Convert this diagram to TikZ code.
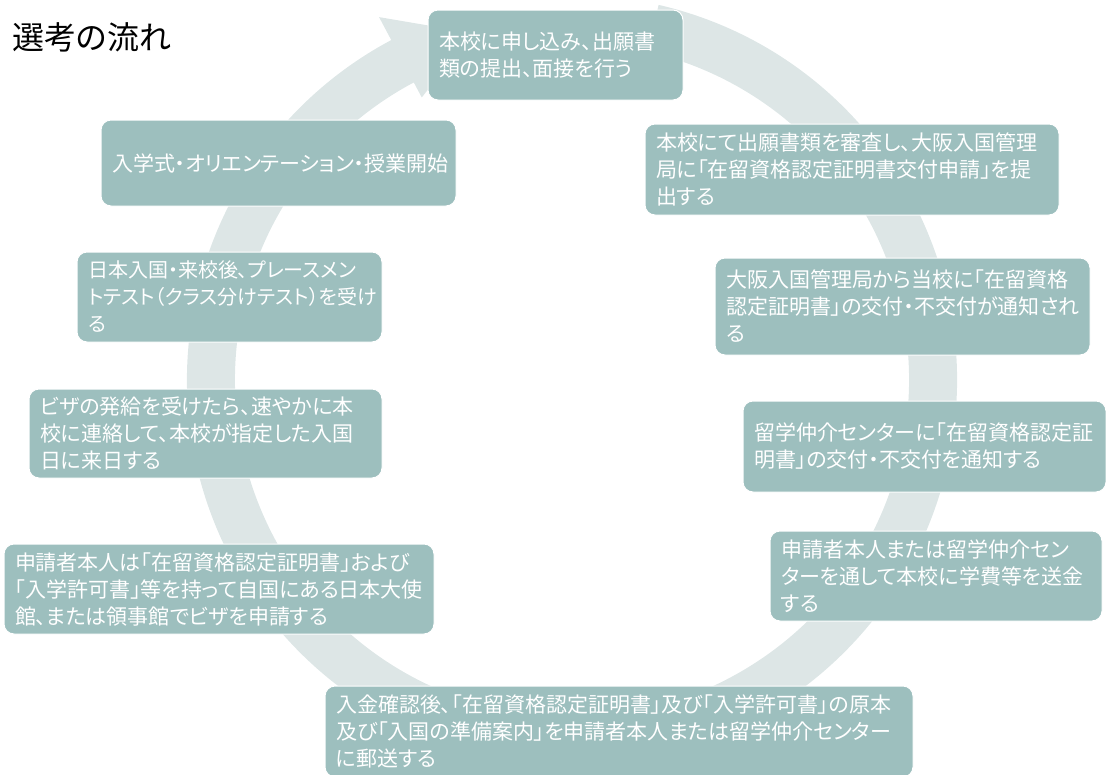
\documentclass[tikz,border=0pt]{standalone}
\usepackage{fontspec}
\usepackage{tikz}
\usetikzlibrary{positioning}
\usetikzlibrary{calc}
\newfontfamily\jpfont{Noto Sans CJK JP}[RawFeature=+palt]
\definecolor{boxcol}{RGB}{157,191,190}
\definecolor{ringcol}{RGB}{221,230,230}
\tikzstyle{stepbox}=[rectangle,rounded corners=10pt,fill=boxcol,draw=white,line width=1pt,text=white,align=left,inner xsep=11pt,inner ysep=4pt,font=\jpfont\fontsize{21}{27}\selectfont]
\tikzstyle{ring}=[fill=ringcol]
\tikzstyle{title}=[font=\jpfont\fontsize{32}{36}\selectfont,anchor=west,inner sep=0pt]

\begin{document}
\begin{tikzpicture}[x=1pt,y=1pt]
\useasboundingbox (0,0) rectangle (1106,-774);

%cycle arrow
\begin{scope}[shift={(572,-380)}]
    \fill[ring] (77:385) arc[start angle=77,end angle=-242,radius=385] -- (-242:411) -- (-254:361) -- (-242:320) -- (-242:337) arc[start angle=-242,end angle=77,radius=337] -- cycle;
\end{scope}

\node[title] (head) at (12,-37) {選考の流れ};

%steps
    \foreach \pos/\w/\h/\name/\txt in {
        {(555.5,-55)/255/90/apply/{本校に申し込み、出願書\\類の提出、面接を行う}},
        {(852,-169.5)/414/91/check/{本校にて出願書類を審査し、大阪入国管理\\局に「在留資格認定証明書交付申請」を提\\出する}},
        {(902.5,-306.5)/375/97/notice/{大阪入国管理局から当校に「在留資格\\認定証明書」の交付・不交付が通知され\\る}},
        {(924.5,-446.5)/363/91/agent/{留学仲介センターに「在留資格認定証\\明書」の交付・不交付を通知する}},
        {(936,-576)/332/90/fee/{申請者本人または留学仲介セン\\ターを通して本校に学費等を送金\\する}},
        {(619,-731.5)/588/91/mail/{入金確認後、「在留資格認定証明書」及び「入学許可書」の原本\\及び「入国の準備案内」を申請者本人または留学仲介センター\\に郵送する}},
        {(219,-589)/430/90/visa/{申請者本人は「在留資格認定証明書」および\\「入学許可書」等を持って自国にある日本大使\\館、または領事館でビザを申請する}},
        {(205.5,-433.5)/353/89/arrive/{ビザの発給を受けたら、速やかに本\\校に連絡して、本校が指定した入国\\日に来日する}},
        {(229.5,-297)/305/90/test/{\fontsize{20}{27}\selectfont 日本入国・来校後、プレースメン\\トテスト（クラス分けテスト）を受け\\る}},
        {(278.5,-163)/355/86/start/{入学式・オリエンテーション・授業開始}}}
        \node[stepbox,text width=\w-22,minimum height=\h] (\name) at \pos {\txt};

\end{tikzpicture}
\end{document}
